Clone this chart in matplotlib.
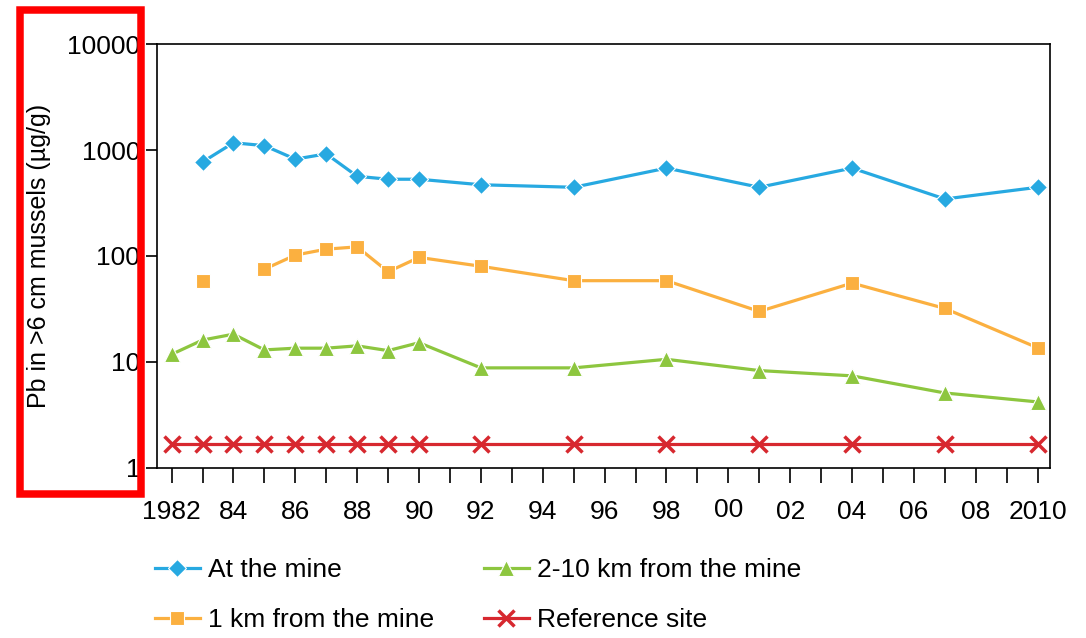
import numpy as np
import matplotlib
matplotlib.use("Agg")
import matplotlib.pyplot as plt
from matplotlib.patches import Rectangle
from matplotlib.ticker import FixedLocator, NullLocator

plt.rcParams['font.family'] = ['Liberation Sans', 'DejaVu Sans']

# Lead concentrations in mussels (>6 cm), ug/g
years_mine = [1983, 1984, 1985, 1986, 1987, 1988, 1989, 1990, 1992, 1995, 1998, 2001, 2004, 2007, 2010]
at_mine = [770, 1170, 1100, 820, 920, 565, 530, 530, 470, 445, 675, 445, 675, 345, 445]

years_1km = [1983, 1984, 1985, 1986, 1987, 1988, 1989, 1990, 1992, 1995, 1998, 2001, 2004, 2007, 2010]
km1 = [58.5, np.nan, 75, 102, 116, 122, 71, 97, 80, 58.5, 58.5, 30, 55.5, 32, 13.6]

years_far = [1982, 1983, 1984, 1985, 1986, 1987, 1988, 1989, 1990, 1992, 1995, 1998, 2001, 2004, 2007, 2010]
km2_10 = [11.8, 16.1, 18.3, 13.0, 13.5, 13.5, 14.2, 12.8, 15.2, 8.8, 8.8, 10.6, 8.3, 7.4, 5.1, 4.2]
reference = [1.7] * len(years_far)

year_ticks = list(range(1982, 2011))
label_years = list(range(1982, 2011, 2))
year_labels = ['1982', '84', '86', '88', '90', '92', '94', '96', '98', '00',
               '02', '04', '06', '08', '2010']

fig = plt.figure(figsize=(10.86, 6.38), dpi=100)
ax = fig.add_axes([0.1446, 0.2665, 0.8223, 0.6645])

blue = '#27a9e1'
orange = '#fbb040'
green = '#8dc63f'
red = '#d7282f'

ax.plot(years_mine, at_mine, color=blue, lw=2.3, marker='D', ms=9,
        mec='white', mew=0.8, label='At the mine', zorder=4)
ax.plot(years_1km, km1, color=orange, lw=2.3, marker='s', ms=10,
        mec='white', mew=0.8, label='1 km from the mine', zorder=4)
ax.plot(years_far, km2_10, color=green, lw=2.3, marker='^', ms=11,
        mec='white', mew=0.8, label='2-10 km from the mine', zorder=4)
ax.plot(years_far, reference, color=red, lw=2.3, marker='x', ms=12,
        mew=2.5, label='Reference site', zorder=4)

ax.set_yscale('log')
ax.set_ylim(1, 10000)
ax.set_xlim(1981.53, 2010.4)
ax.yaxis.set_major_locator(FixedLocator([1, 10, 100, 1000, 10000]))
ax.yaxis.set_minor_locator(NullLocator())
ax.set_yticklabels(['1', '10', '100', '1000', '10000'])
ax.xaxis.set_major_locator(FixedLocator(year_ticks))
ax.set_xticklabels(['' for _ in year_ticks])
ax.xaxis.set_minor_locator(NullLocator())

# year labels every second year
for yr, lab in zip(label_years, year_labels):
    dy = -0.098 if lab == '00' else -0.105
    ax.text(yr, dy, lab, transform=ax.get_xaxis_transform(),
            ha='center', va='center', fontsize=19)

ax.tick_params(axis='y', direction='out', length=8, width=1.2, labelsize=19, pad=4)
ax.tick_params(axis='x', direction='out', length=11, width=1.2)
for sp in ax.spines.values():
    sp.set_linewidth(1.2)

ax.set_ylabel('Pb in >6 cm mussels (µg/g)', fontsize=18, labelpad=12)

h, l = ax.get_legend_handles_labels()
fig.legend(h, l, ncol=2, loc='upper left', bbox_to_anchor=(0.1427, 0.1254),
           frameon=False, fontsize=19, handlelength=1.7, columnspacing=1.9,
           labelspacing=1.0, handletextpad=0.3, borderaxespad=0, borderpad=0)

fig.add_artist(Rectangle((19.5 / 1086, 1 - 493.5 / 638), (141 - 19.5) / 1086,
                         (493.5 - 10) / 638, transform=fig.transFigure,
                         fill=False, edgecolor='#ff0000', lw=5.4, zorder=10))

fig.savefig('out.png', dpi=100)
